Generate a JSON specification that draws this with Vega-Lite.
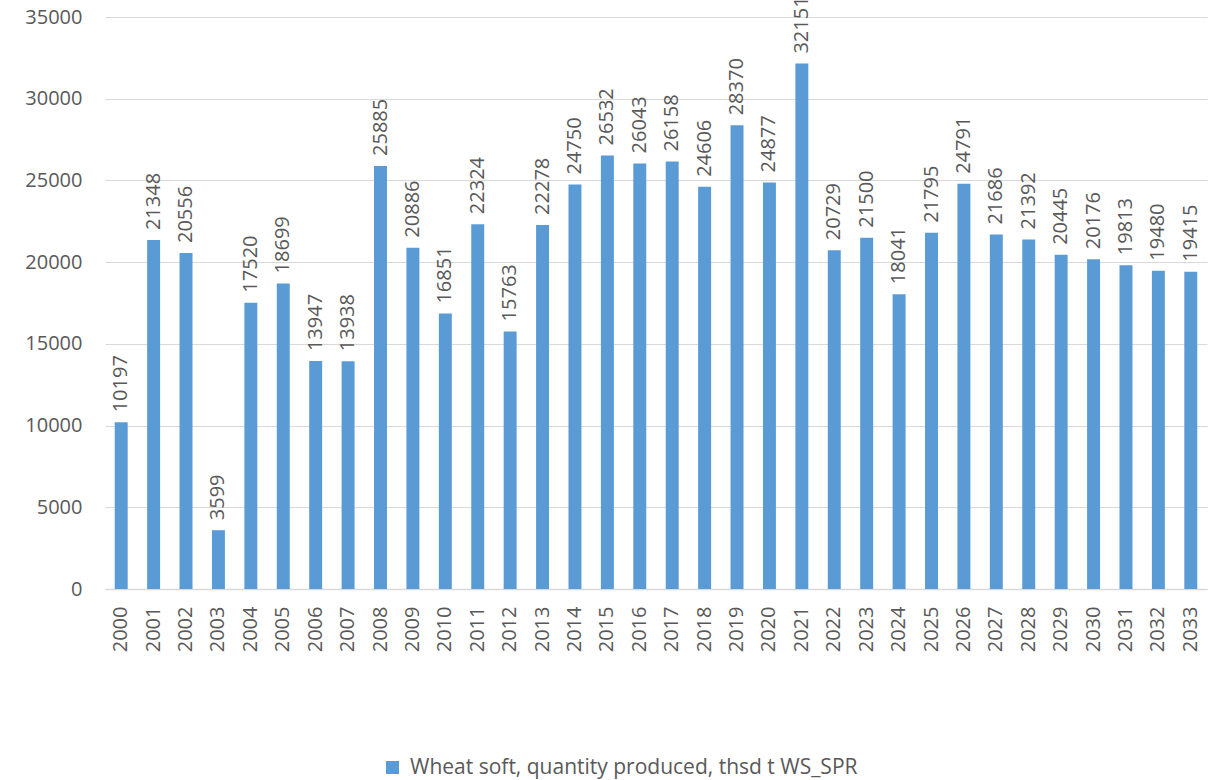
{
  "$schema": "https://vega.github.io/schema/vega-lite/v6.json",
  "autosize": {"type": "none"},
  "padding": {"left": 105, "top": 17, "right": 4, "bottom": 191},
  "width": 1102,
  "height": 572,
  "background": "white",
  "config": {
    "view": {"stroke": null},
    "font": "Open Sans",
    "axis": {"labelColor": "#595959", "labelFont": "Open Sans", "labelFontSize": 20, "ticks": false, "title": null},
    "legend": {"labelColor": "#595959", "labelFont": "Open Sans", "labelFontSize": 21}
  },
  "data": {
    "values": [
      {"year": "2000", "value": 10197},
      {"year": "2001", "value": 21348},
      {"year": "2002", "value": 20556},
      {"year": "2003", "value": 3599},
      {"year": "2004", "value": 17520},
      {"year": "2005", "value": 18699},
      {"year": "2006", "value": 13947},
      {"year": "2007", "value": 13938},
      {"year": "2008", "value": 25885},
      {"year": "2009", "value": 20886},
      {"year": "2010", "value": 16851},
      {"year": "2011", "value": 22324},
      {"year": "2012", "value": 15763},
      {"year": "2013", "value": 22278},
      {"year": "2014", "value": 24750},
      {"year": "2015", "value": 26532},
      {"year": "2016", "value": 26043},
      {"year": "2017", "value": 26158},
      {"year": "2018", "value": 24606},
      {"year": "2019", "value": 28370},
      {"year": "2020", "value": 24877},
      {"year": "2021", "value": 32151},
      {"year": "2022", "value": 20729},
      {"year": "2023", "value": 21500},
      {"year": "2024", "value": 18041},
      {"year": "2025", "value": 21795},
      {"year": "2026", "value": 24791},
      {"year": "2027", "value": 21686},
      {"year": "2028", "value": 21392},
      {"year": "2029", "value": 20445},
      {"year": "2030", "value": 20176},
      {"year": "2031", "value": 19813},
      {"year": "2032", "value": 19480},
      {"year": "2033", "value": 19415}
    ]
  },
  "encoding": {
    "x": {
      "field": "year",
      "type": "ordinal",
      "scale": {"paddingInner": 0.6, "paddingOuter": 0.3},
      "axis": {
        "labelAngle": -90,
        "labelPadding": 17,
        "domainColor": "#d9d9d9",
        "domainWidth": 1.5,
        "grid": false
      }
    },
    "y": {
      "field": "value",
      "type": "quantitative",
      "scale": {"domain": [0, 35000], "nice": false},
      "axis": {
        "values": [0, 5000, 10000, 15000, 20000, 25000, 30000, 35000],
        "format": "d",
        "domain": false,
        "grid": true,
        "gridColor": "#d9d9d9",
        "gridWidth": 1.2,
        "labelPadding": 23
      }
    }
  },
  "layer": [
    {
      "mark": {"type": "bar"},
      "encoding": {
        "color": {
          "datum": "Wheat soft, quantity produced, thsd t WS_SPR",
          "scale": {"range": ["#5b9bd5"]},
          "legend": {
            "title": null,
            "orient": "none",
            "legendX": 277,
            "legendY": 740,
            "symbolType": "square",
            "symbolSize": 170,
            "symbolStrokeWidth": 0,
            "labelOffset": 7,
            "labelLimit": 0
          }
        }
      }
    },
    {
      "mark": {
        "type": "text",
        "angle": 270,
        "align": "left",
        "baseline": "middle",
        "dx": 10,
        "font": "Open Sans",
        "fontSize": 20,
        "color": "#595959"
      },
      "encoding": {
        "text": {"field": "value", "type": "quantitative", "format": "d"}
      }
    }
  ]
}
